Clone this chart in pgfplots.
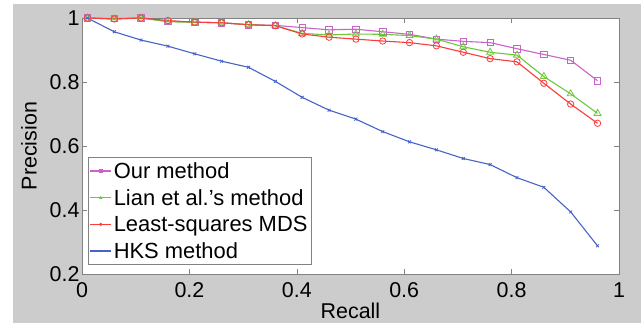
\documentclass[border=0pt]{standalone}
\usepackage{pgfplots}
\pgfplotsset{compat=1.18}
\usepackage{fontspec}
\setmainfont{Liberation Sans}
\definecolor{cOur}{RGB}{200,100,200}
\definecolor{cLian}{RGB}{110,200,60}
\definecolor{cLS}{RGB}{250,60,60}
\definecolor{cHKS}{RGB}{70,100,200}
\definecolor{bgg}{RGB}{204,204,204}
\definecolor{axg}{RGB}{130,130,130}
\begin{document}
\begin{tikzpicture}[x=1bp,y=1bp]
\path[use as bounding box] (0,0) rectangle (644,326);
\fill[white] (0,0) rectangle (644,326);
\fill[bgg] (13,3) rectangle (641,322);
\begin{axis}[
  at={(82bp,52bp)}, anchor=south west,
  scale only axis, width=537bp, height=256bp,
  xmin=0, xmax=1, ymin=0.2, ymax=1,
  xtick={0,0.2,0.4,0.6,0.8,1},
  ytick={0.2,0.4,0.6,0.8,1},
  tick align=inside,
  major tick length=5bp,
  axis line style={axg, line width=0.8bp},
  every tick/.style={axg, line width=0.6bp},
  axis background/.style={fill=white},
  font=\fontsize{21.5}{25}\selectfont,
  /pgf/number format/assume math mode=true,
  xticklabel style={font=\fontsize{21.5}{25}\selectfont, yshift=-5bp},
  yticklabel style={font=\fontsize{21.5}{25}\selectfont, xshift=1bp},
  xlabel={Recall}, ylabel={Precision},
  xlabel style={font=\fontsize{21.5}{25}\selectfont, yshift=2bp},
  ylabel style={font=\fontsize{21.5}{25}\selectfont, yshift=6bp},
  legend style={at={(0.011,0.457)}, anchor=north west, draw=axg, line width=0.6bp,
    font=\fontsize{22}{26}\selectfont, inner xsep=1.5bp, inner ysep=3bp, row sep=5.5bp,
    cells={anchor=west}},
  legend image code/.code={\draw[mark repeat=2,mark phase=2,mark size=1.2bp] plot coordinates {(0bp,0bp)(10.5bp,0bp)(21bp,0bp)};},
  every axis plot/.append style={line width=1.1bp},
]
\addplot[cOur, mark=square, mark size=3.2bp, mark options={line width=0.8bp}] coordinates {
(0.01,1.0)(0.06,0.998)(0.11,1.0)(0.16,0.99)(0.21,0.987)(0.26,0.985)(0.31,0.979)(0.36,0.977)
(0.41,0.970)(0.46,0.963)(0.51,0.965)(0.56,0.957)(0.61,0.949)(0.66,0.934)(0.71,0.927)
(0.76,0.923)(0.81,0.904)(0.86,0.886)(0.91,0.868)(0.96,0.804)};
\addlegendentry{Our method}
\addplot[cLian, mark=triangle, mark size=4bp, mark options={line width=0.8bp}] coordinates {
(0.01,1.0)(0.06,0.997)(0.11,1.0)(0.16,0.988)(0.21,0.987)(0.26,0.985)(0.31,0.979)(0.36,0.976)
(0.41,0.952)(0.46,0.947)(0.51,0.950)(0.56,0.949)(0.61,0.945)(0.66,0.934)(0.71,0.910)
(0.76,0.893)(0.81,0.884)(0.86,0.817)(0.91,0.763)(0.96,0.702)};
\addlegendentry{Lian et al.'s method}
\addplot[cLS, mark=o, mark size=3.2bp, mark options={line width=0.8bp}] coordinates {
(0.01,1.0)(0.06,0.997)(0.11,1.0)(0.16,0.992)(0.21,0.987)(0.26,0.985)(0.31,0.979)(0.36,0.976)
(0.41,0.950)(0.46,0.940)(0.51,0.934)(0.56,0.928)(0.61,0.923)(0.66,0.913)(0.71,0.893)
(0.76,0.873)(0.81,0.863)(0.86,0.796)(0.91,0.731)(0.96,0.671)};
\addlegendentry{Least-squares MDS}
\addplot[cHKS, mark=x, mark size=2bp, mark options={line width=0.8bp}] coordinates {
(0.01,1.0)(0.06,0.957)(0.11,0.931)(0.16,0.912)(0.21,0.888)(0.26,0.865)(0.31,0.846)(0.36,0.802)
(0.41,0.752)(0.46,0.712)(0.51,0.684)(0.56,0.645)(0.61,0.613)(0.66,0.588)(0.71,0.561)
(0.76,0.542)(0.81,0.501)(0.86,0.471)(0.91,0.394)(0.96,0.288)};
\addlegendentry{HKS method}
\end{axis}
\end{tikzpicture}
\end{document}
